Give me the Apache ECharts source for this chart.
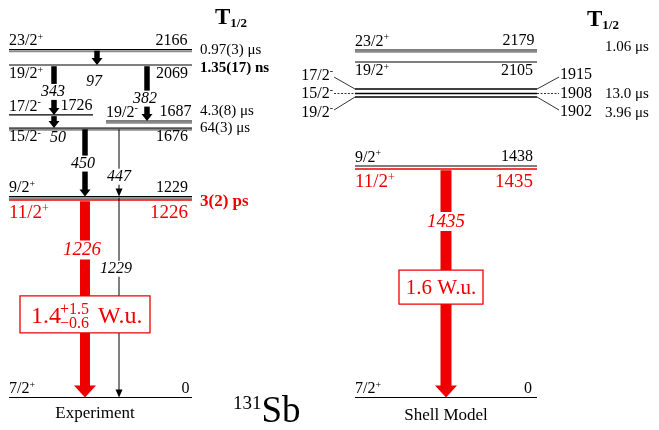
<!DOCTYPE html>
<html><head><meta charset="utf-8">
<script src="https://cdn.jsdelivr.net/npm/echarts@6/dist/echarts.min.js"></script>
<style>html,body{margin:0;padding:0;background:#fff}#c{width:659px;height:430px}</style>
</head><body><div id="c"></div>
<script>
// ================= DATA =================
// Experiment levels
const expSpins     = ['23/2+', '19/2+', '17/2-', '19/2-', '15/2-', '9/2+', '11/2+', '7/2+'];
const expEnergies  = [2166, 2069, 1726, 1687, 1676, 1229, 1226, 0];
// schematic heights (keV) at which each level is drawn (spread slightly for legibility)
const expDrawnE    = [2175, 2078, 1766, 1728, 1684, 1256, 1234, 0];
const expHalfLives = ['0.97(3) μs', '1.35(17) ns', '', '4.3(8) μs', '64(3) μs', '', '3(2) ps', ''];
// Experiment gamma transitions
const expGammaE    = [97, 343, 50, 382, 450, 447, 1229, 1226];
const expGammaFrom = [2166, 2069, 1726, 2069, 1676, 1676, 1229, 1226];
const expGammaTo   = [2069, 1726, 1676, 1687, 1229, 1229, 0, 0];
const expBE2       = ['1.4', '+1.5', '−0.6', 'W.u.'];

// Shell-model levels
const smSpins     = ['23/2+', '19/2+', '17/2-', '15/2-', '19/2-', '9/2+', '11/2+', '7/2+'];
const smEnergies  = [2179, 2105, 1915, 1908, 1902, 1438, 1435, 0];
const smDrawnE    = [2172, 2097, 1928, 1900, 1878, 1447, 1428, 0];
const smHalfLives = ['1.06 μs', '', '', '13.0 μs', '3.96 μs', '', '', ''];
const smGammaE    = [1435];
const smGammaFrom = [1435];
const smGammaTo   = [0];
const smBE2       = ['1.6 W.u.'];

// ================= LAYOUT / STYLE =================
const FONT = '"Liberation Serif", "Times New Roman", serif';
const RED = '#ee0000';

const expLayout = {
  x1: [9, 9, 9, 106, 9, 9, 9, 9],
  x2: [192, 192, 93, 192, 192, 192, 192, 192],
  kind: ['double', 'thin', 'thin', 'double', 'double', 'double', 'red', 'thin'],
  pos: ['above', 'below', 'above', 'above', 'below', 'above', 'below', 'above'],
  inset: [4.5, 4, 0.5, 0.5, 4, 4, 4, 2.5],
  hlX: 200,
  hlDy: [0.5, 3, 0, -10, 0, 0, 2, 0],
  hlStyle: ['n', 'b', 'n', 'n', 'n', 'n', 'r', 'n'],
  sideDy: []
};
const smLayout = {
  x1: [355, 355, 355, 355, 355, 355, 355, 355],
  x2: [537, 537, 537, 537, 537, 537, 537, 537],
  kind: ['double', 'thin', 'bold', 'bold', 'bold', 'thin', 'red', 'thin'],
  pos: ['above', 'below', 'side', 'side', 'side', 'above', 'below', 'above'],
  inset: [2.5, 4, 0, 0, 0, 4, 4, 5],
  hlX: 605,
  hlDy: [-3, 0, 0, 0.5, 16, 0, 0, 0],
  hlStyle: ['n', 'n', 'n', 'n', 'n', 'n', 'n', 'n'],
  sideDy: [0, 0, -14, 0, 15, 0, 0, 0]
};
const expGammaLayout = {
  x:      [97, 54, 54, 147, 85, 119, 119, 85],
  w:      [5.5, 5.5, 5.5, 5.5, 5.5, 1, 1, 10],
  color:  ['#000', '#000', '#000', '#000', '#000', '#000', '#000', RED],
  labelX: [94, 53, 58, 145, 83, 119, 116, 82],
  labelE: [1972, 1910, 1622, 1868, 1462, 1380, 805, 922],
  bg:     [0, 1, 0, 1, 1, 1, 1, 1]
};
const smGammaLayout = {
  x: [446], w: [11], color: [RED], labelX: [446], labelE: [1100], bg: [1]
};

// ================= HELPERS =================
function lineEl(x1, y1, x2, y2, stroke, lw, dash) {
  return { type: 'line', shape: { x1, y1, x2, y2 },
    style: { stroke, lineWidth: lw, lineDash: dash || null } };
}
function textEl(x, y, text, o) {
  return { type: 'text', x, y, style: Object.assign({
    text, fill: '#000', fontFamily: FONT, fontSize: 16,
    align: 'left', verticalAlign: 'middle' }, o || {}) };
}
function spinRichText(s) { return '{m|' + s.slice(0, -1) + '}{s|' + s.slice(-1) + '}'; }
function spinRich(size, color) {
  const ss = Math.round(size * 0.65);
  return {
    m: { fontFamily: FONT, fontSize: size, fill: color, lineHeight: size + 1, verticalAlign: 'bottom' },
    s: { fontFamily: FONT, fontSize: ss, fill: color, lineHeight: ss, verticalAlign: 'top' }
  };
}

function levelSeries(spins, energies, drawnE, halfLives, L) {
  return {
    type: 'custom', coordinateSystem: 'cartesian2d', silent: true, clip: false,
    data: drawnE.map((e, i) => [L.x1[i], e, L.x2[i]]),
    encode: { x: 0, y: 1 },
    renderItem(params, api) {
      const i = params.dataIndex;
      const a = api.coord([api.value(0), api.value(1)]);
      const b = api.coord([api.value(2), api.value(1)]);
      const y = a[1];
      const ch = [];
      const k = L.kind[i];
      if (k === 'double') {
        ch.push(lineEl(a[0], y, b[0], y, '#000', 1.2));
        ch.push(lineEl(a[0], y + 1.7, b[0], y + 1.7, '#8a8a8a', 2));
      } else if (k === 'thin') {
        ch.push(lineEl(a[0], y, b[0], y, '#000', 1.2));
      } else if (k === 'bold') {
        ch.push(lineEl(a[0], y, b[0], y, '#000', 1.7));
      } else if (k === 'red') {
        ch.push(lineEl(a[0], y, b[0], y, RED, 1.6));
      }
      const red = k === 'red';
      const size = red ? 19 : 16;
      const col = red ? RED : '#000';
      if (L.pos[i] === 'above' || L.pos[i] === 'below') {
        const ty = L.pos[i] === 'above' ? y - 9 : y + (red ? 12.5 : 8.5);
        ch.push(textEl(a[0], ty, spinRichText(spins[i]), { rich: spinRich(size, col) }));
        ch.push(textEl(b[0] - L.inset[i], ty, String(energies[i]), { align: 'right', fontSize: size, fill: col }));
      } else {
        const dy = L.sideDy[i];
        const ty = y + dy;
        const dash = dy === 0 ? [2, 1.5] : null;
        const off = dy < 0 ? 2 : (dy > 0 ? -2 : 0);
        ch.push(textEl(a[0] - 22, ty, spinRichText(spins[i]), { align: 'right', rich: spinRich(size, col) }));
        ch.push(lineEl(a[0] - 21, ty + off, a[0], y, '#000', 0.8, dash));
        ch.push(textEl(b[0] + 23, ty, String(energies[i]), { fontSize: size }));
        ch.push(lineEl(b[0], y, b[0] + 22, ty + off, '#000', 0.8, dash));
      }
      if (halfLives[i]) {
        const hs = L.hlStyle[i];
        const hx = api.coord([L.hlX, 0])[0];
        ch.push(textEl(hx, y + L.hlDy[i], halfLives[i], {
          fontSize: hs === 'r' ? 17 : 15,
          fontWeight: hs === 'n' ? 'normal' : 'bold',
          fill: hs === 'r' ? RED : '#000'
        }));
      }
      return { type: 'group', children: ch };
    }
  };
}

function gammaSeries(gE, gFrom, gTo, lvE, lvDrawn, G) {
  const drawn = e => lvDrawn[lvE.indexOf(e)];
  return {
    type: 'custom', coordinateSystem: 'cartesian2d', silent: true, clip: false,
    data: gE.map((g, i) => [G.x[i], drawn(gFrom[i]), drawn(gTo[i])]),
    encode: { x: 0, y: 1 },
    renderItem(params, api) {
      const i = params.dataIndex;
      const x = api.coord([api.value(0), api.value(1)])[0];
      const top = api.coord([api.value(0), api.value(1)])[1] + 1.2;
      const tip = api.coord([api.value(0), api.value(2)])[1];
      const w = G.w[i];
      const col = G.color[i];
      const ch = [];
      let hl, hw;
      if (w <= 1.5) { hl = 8; hw = 7; }
      else if (w <= 6) { hl = 7; hw = 11; }
      else { hl = 12; hw = 22; }
      if (w <= 1.5) {
        ch.push(lineEl(x, top, x, tip - hl + 1, col, w));
      } else {
        ch.push({ type: 'rect', shape: { x: x - w / 2, y: top, width: w, height: tip - hl - top + 0.5 },
          style: { fill: col } });
      }
      ch.push({ type: 'polygon', shape: { points: [[x - hw / 2, tip - hl], [x + hw / 2, tip - hl], [x, tip]] },
        style: { fill: col } });
      const lp = api.coord([G.labelX[i], G.labelE[i]]);
      const red = col === RED;
      ch.push(textEl(lp[0], lp[1], String(gE[i]), {
        align: 'center', fontStyle: 'italic', fontSize: red ? 19 : 16, fill: col,
        backgroundColor: G.bg[i] ? '#fff' : null, padding: [0, 1]
      }));
      return { type: 'group', children: ch };
    }
  };
}

// B(E2) boxes: [centerX, centerE, width, height]
const boxData = [[85, 519, 130, 37], [441, 690, 84, 34]];
const boxSeries = {
  type: 'custom', coordinateSystem: 'cartesian2d', silent: true, clip: false,
  data: boxData, encode: { x: 0, y: 1 },
  renderItem(params, api) {
    const i = params.dataIndex;
    const c = api.coord([api.value(0), api.value(1)]);
    const w = api.value(2), h = api.value(3);
    const ch = [{ type: 'rect', shape: { x: c[0] - w / 2, y: c[1] - h / 2, width: w, height: h },
      style: { fill: '#fff', stroke: RED, lineWidth: 1.3 } }];
    if (i === 0) {
      ch.push(textEl(c[0] - 24, c[1] + 2.5, expBE2[0], { align: 'right', fontSize: 24, fill: RED }));
      ch.push(textEl(c[0] - 25, c[1] - 5, expBE2[1], { fontSize: 16, fill: RED }));
      ch.push(textEl(c[0] - 25, c[1] + 9, expBE2[2], { fontSize: 16, fill: RED }));
      ch.push(textEl(c[0] + 13, c[1] + 2.5, expBE2[3], { fontSize: 24, fill: RED }));
    } else {
      ch.push(textEl(c[0], c[1] + 1, smBE2[0], { align: 'center', fontSize: 21, fill: RED }));
    }
    return { type: 'group', children: ch };
  }
};

const chart = echarts.init(document.getElementById('c'), null, { renderer: 'canvas' });
chart.setOption({
  animation: false,
  backgroundColor: '#fff',
  grid: { left: 0, right: 0, top: 13.5, height: 400 },
  xAxis: { type: 'value', min: 0, max: 659, show: false },
  yAxis: { type: 'value', min: -100, max: 2400, show: false },
  series: [
    levelSeries(expSpins, expEnergies, expDrawnE, expHalfLives, expLayout),
    levelSeries(smSpins, smEnergies, smDrawnE, smHalfLives, smLayout),
    gammaSeries(expGammaE, expGammaFrom, expGammaTo, expEnergies, expDrawnE, expGammaLayout),
    gammaSeries(smGammaE, smGammaFrom, smGammaTo, smEnergies, smDrawnE, smGammaLayout),
    boxSeries
  ],
  graphic: [
    { type: 'text', x: 215, y: 18, style: { text: '{t|T}{u|1/2}', verticalAlign: 'middle',
      rich: { t: { fontFamily: FONT, fontSize: 23, fontWeight: 'bold', fill: '#000', lineHeight: 24, verticalAlign: 'bottom' },
              u: { fontFamily: FONT, fontSize: 13, fontWeight: 'bold', fill: '#000', lineHeight: 13, verticalAlign: 'bottom' } } } },
    { type: 'text', x: 587, y: 20, style: { text: '{t|T}{u|1/2}', verticalAlign: 'middle',
      rich: { t: { fontFamily: FONT, fontSize: 23, fontWeight: 'bold', fill: '#000', lineHeight: 24, verticalAlign: 'bottom' },
              u: { fontFamily: FONT, fontSize: 13, fontWeight: 'bold', fill: '#000', lineHeight: 13, verticalAlign: 'bottom' } } } },
    { type: 'text', x: 95, y: 414, style: { text: 'Experiment', fontFamily: FONT, fontSize: 17, fill: '#000', align: 'center', verticalAlign: 'middle' } },
    { type: 'text', x: 446, y: 416, style: { text: 'Shell Model', fontFamily: FONT, fontSize: 17, fill: '#000', align: 'center', verticalAlign: 'middle' } },
    { type: 'text', x: 233, y: 413, style: { text: '{a|131}{b|Sb}', verticalAlign: 'middle',
      rich: { a: { fontFamily: FONT, fontSize: 19, fill: '#000', lineHeight: 19, verticalAlign: 'top' },
              b: { fontFamily: FONT, fontSize: 37, fill: '#000', lineHeight: 36, verticalAlign: 'bottom' } } } }
  ]
});
</script></body></html>
